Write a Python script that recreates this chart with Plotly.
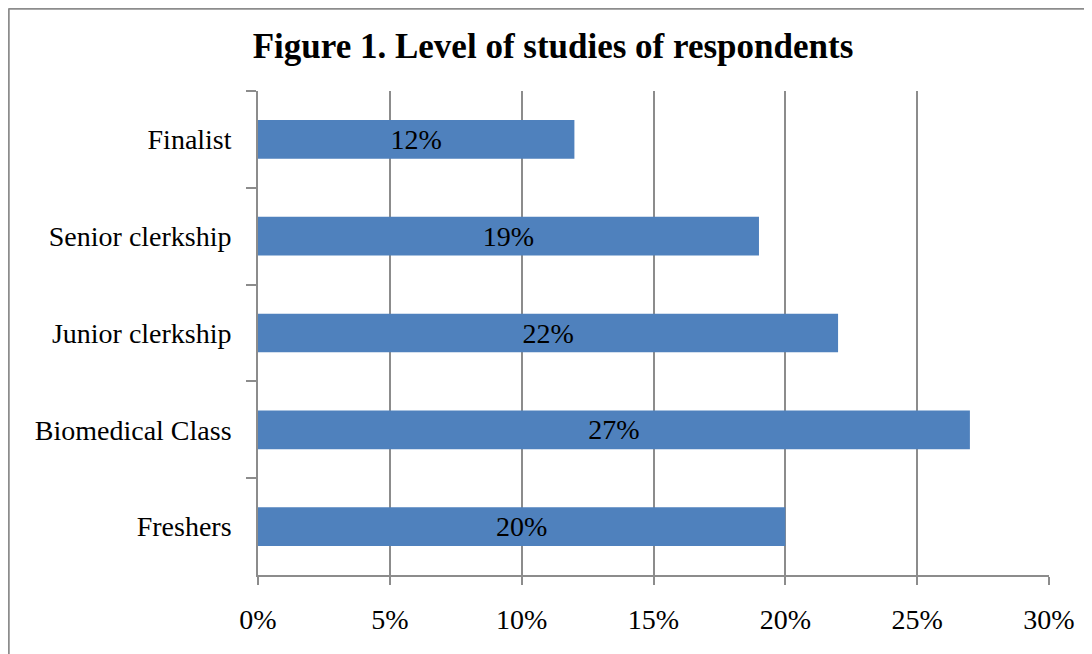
import plotly.graph_objects as go

categories = ["Finalist", "Senior clerkship", "Junior clerkship", "Biomedical Class", "Freshers"]
values = [12, 19, 22, 27, 20]
labels = ["12%", "19%", "22%", "27%", "20%"]
tick_vals = [0, 5, 10, 15, 20, 25, 30]
tick_text = ["0%", "5%", "10%", "15%", "20%", "25%", "30%"]

W, H = 1092, 654
OFF = 8  # page body margin
L, R, T, B = 258 - OFF, 1049 - OFF, 91 - OFF, 575 - OFF

def px(x):
    return (x - L) / (R - L)

def py(y):
    return (B - y) / (B - T)

FONT = "Liberation Serif"
GRID = "#8c8c8c"
LW = 1.7
FS = 28

fig = go.Figure(go.Bar(
    x=values, y=categories, orientation="h",
    marker=dict(color="#4F81BD", line=dict(width=0)),
    text=labels, textposition="inside", insidetextanchor="middle",
    textfont=dict(family=FONT, size=FS, color="black"),
    width=0.4, cliponaxis=False,
))

fig.update_layout(
    width=W, height=H,
    margin=dict(l=L, r=W - R, t=T, b=H - B),
    paper_bgcolor="white", plot_bgcolor="white",
    showlegend=False,
    title=dict(text="<b>Figure 1. Level of studies of respondents</b>",
               x=(553 - OFF) / W, xanchor="center", xref="container",
               y=1 - (46 - OFF) / H, yanchor="middle", yref="container",
               font=dict(family=FONT, size=35, color="black")),
    font=dict(family=FONT, size=FS, color="black"),
    xaxis=dict(range=[0, 30], tickvals=tick_vals, ticktext=tick_text,
               showgrid=True, gridcolor=GRID, gridwidth=LW,
               showline=True, linecolor=GRID, linewidth=LW,
               ticks="outside", ticklen=8, tickcolor=GRID, tickwidth=LW,
               ticklabelstandoff=11, zeroline=False,
               tickfont=dict(family=FONT, size=FS, color="black")),
    yaxis=dict(autorange="reversed", type="category",
               showline=True, linecolor=GRID, linewidth=LW,
               ticks="outside", ticklen=10, tickcolor=GRID, tickwidth=LW,
               tickson="boundaries", showgrid=False, ticklabelstandoff=19,
               tickfont=dict(family=FONT, size=FS, color="black")),
    shapes=[
        dict(type="line", xref="paper", yref="paper",
             x0=px(0.5), x1=px(0.5), y0=py(0.5), y1=py(700),
             line=dict(color="#8c8c8c", width=2.5)),
        dict(type="line", xref="paper", yref="paper",
             x0=px(0.5), x1=px(1200), y0=py(0.5), y1=py(0.5),
             line=dict(color="#8c8c8c", width=2.5)),
    ],
)

fig.write_html("out.html")
